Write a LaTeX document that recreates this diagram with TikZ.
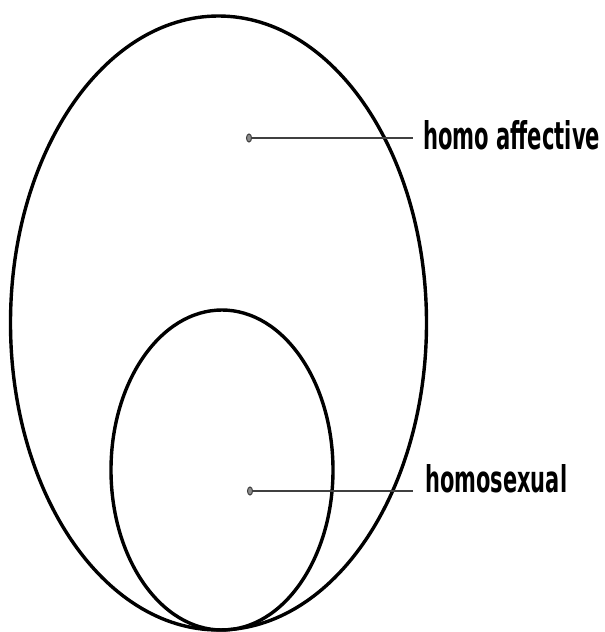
\documentclass[tikz,border=0pt]{standalone}
\usepackage{fontspec}
\usepackage{graphicx}
\newfontfamily\lblfont{DejaVu Sans}
\usetikzlibrary{shapes.geometric}
\tikzset{
  ring/.style={ellipse, draw=black, line width=3.4pt, inner sep=0pt},
  pin/.style={ellipse, draw=black!75, fill=black!45, line width=1pt, minimum width=5pt, minimum height=8pt, inner sep=0pt},
  lead/.style={draw=black!75, line width=1.8pt},
  lbl/.style={inner sep=0pt, anchor=south west, font=\lblfont\bfseries}
}
\begin{document}
\begin{tikzpicture}[x=1pt, y=-1pt]
\useasboundingbox (0,0) rectangle (605,632);
\node[ring, minimum width=416pt, minimum height=614pt] (big) at (218.5,323) {};
\node[ring, minimum width=222pt, minimum height=320pt] (small) at (222,470) {};
\node[pin] (d1) at (249,138) {};
\node[pin] (d2) at (250,491) {};
\node[lbl] (l1) at (423,150) {\resizebox{177pt}{29pt}{homo affective}};
\node[lbl] (l2) at (425,493) {\resizebox{142pt}{28pt}{homosexual}};
\draw[lead] (d1) -- ([xshift=-10pt]d1 -| l1.west);
\draw[lead] (d2) -- ([xshift=-12pt]d2 -| l2.west);
\end{tikzpicture}
\end{document}
